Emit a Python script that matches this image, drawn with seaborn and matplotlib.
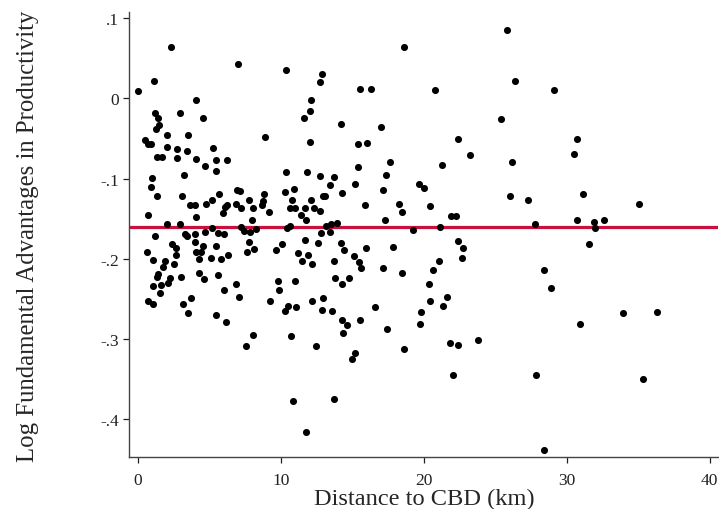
import matplotlib
matplotlib.use("Agg")
import matplotlib.pyplot as plt
import seaborn as sns
import pandas as pd

# Distance to the central business district (km) for each site
distance_km = [
    2.32, 1.09, 0.00, 4.03, 1.16, 2.93, 1.37, 4.54, 1.46, 1.27,
    2.02, 3.49, 0.46, 0.69, 0.92, 2.00, 2.70, 3.44, 5.22, 1.34,
    1.67, 2.70, 4.05, 4.66, 5.45, 6.20, 5.45, 0.97, 0.88, 3.19,
    1.34, 3.09, 5.68, 5.17, 4.75, 3.63, 4.00, 6.10, 0.71, 5.94,
    4.07, 2.02, 2.91, 5.19, 1.18, 3.30, 3.42, 4.00, 4.68, 5.59,
    6.03, 2.35, 2.67, 3.96, 4.54, 5.45, 0.62, 4.05, 4.38, 2.63,
    6.32, 1.06, 4.24, 5.10, 5.80, 1.86, 2.51, 1.72, 1.41, 1.32,
    2.21, 3.00, 4.28, 4.63, 5.59, 2.11, 1.58, 1.06, 1.53, 6.03,
    0.69, 1.06, 3.12, 3.72, 3.47, 5.43, 6.15,
    7.01, 10.36, 12.84, 12.72, 12.09, 12.00, 11.58, 8.87, 12.04,
    10.36, 11.81, 12.74, 6.92, 7.15, 8.83, 10.27, 10.90, 12.95, 6.20,
    6.83, 7.24, 7.76, 8.08, 8.76, 8.71, 9.17, 10.78, 10.97, 10.62,
    12.09, 11.67, 12.32, 12.70, 11.39, 11.74, 8.01, 7.24, 7.41, 7.83,
    8.27, 10.41, 10.64, 7.76, 8.13, 7.62, 9.69, 10.11, 11.67, 12.60,
    11.16, 11.86, 11.48, 12.16, 6.85, 7.06, 9.83, 9.85, 10.99, 9.24,
    10.50, 11.02, 10.27, 12.14, 12.95, 12.88,
    8.08, 7.57, 10.71, 12.42, 10.83, 11.74,
    18.62, 15.50, 16.29, 14.21, 17.01, 15.38, 15.99, 15.36, 17.66, 17.34,
    13.68, 13.40, 15.19, 13.07, 14.26, 17.13, 19.64, 20.04, 15.85, 18.27,
    18.48, 20.41, 17.29, 13.14, 13.47, 13.93, 12.81, 13.44, 19.22,
    14.17, 14.38, 15.94, 17.85, 13.72, 15.10, 15.43, 15.57, 17.13, 18.45,
    13.77, 14.75, 14.28, 20.39, 20.41, 13.56, 16.57, 19.83, 14.26, 14.59,
    15.52, 14.33, 17.45, 19.73, 18.62, 15.17, 14.94, 13.68,
    25.80, 20.78, 26.36, 29.08, 25.38, 22.37, 30.71, 23.23, 30.50, 21.27,
    26.20, 26.03, 27.27, 31.16, 35.08, 21.88, 22.28, 21.13, 27.80, 30.69,
    31.93, 32.00, 32.60, 22.39, 22.77, 22.65, 31.55, 21.04, 20.67, 28.41,
    28.92, 21.62, 21.37, 33.96, 36.29, 30.92, 21.81, 22.37, 23.77, 22.04,
    27.85, 35.33, 28.38,
]

# Estimated log fundamental advantage in productivity for each site
log_advantage = [
    0.064, 0.022, 0.009, -0.002, -0.018, -0.018, -0.024, -0.024, -0.033, -0.038,
    -0.046, -0.045, -0.052, -0.057, -0.057, -0.060, -0.063, -0.066, -0.062, -0.073,
    -0.073, -0.074, -0.075, -0.084, -0.077, -0.077, -0.091, -0.099, -0.110, -0.096,
    -0.121, -0.121, -0.119, -0.126, -0.131, -0.133, -0.133, -0.135, -0.145, -0.143,
    -0.148, -0.157, -0.157, -0.161, -0.172, -0.169, -0.171, -0.169, -0.167, -0.168,
    -0.169, -0.181, -0.186, -0.179, -0.184, -0.184, -0.191, -0.191, -0.192, -0.195,
    -0.195, -0.201, -0.200, -0.199, -0.200, -0.203, -0.206, -0.210, -0.219, -0.223,
    -0.224, -0.223, -0.217, -0.225, -0.220, -0.230, -0.233, -0.234, -0.242, -0.239,
    -0.252, -0.256, -0.256, -0.249, -0.267, -0.270, -0.279,
    0.043, 0.036, 0.031, 0.021, -0.002, -0.015, -0.024, -0.048, -0.054,
    -0.092, -0.092, -0.097, -0.114, -0.115, -0.119, -0.117, -0.113, -0.121, -0.133,
    -0.131, -0.137, -0.127, -0.137, -0.128, -0.133, -0.141, -0.127, -0.136, -0.137,
    -0.127, -0.137, -0.137, -0.140, -0.145, -0.151, -0.151, -0.160, -0.165, -0.167,
    -0.163, -0.161, -0.159, -0.179, -0.188, -0.192, -0.189, -0.182, -0.177, -0.180,
    -0.193, -0.195, -0.202, -0.206, -0.231, -0.248, -0.227, -0.239, -0.227, -0.253,
    -0.259, -0.260, -0.265, -0.252, -0.249, -0.264,
    -0.295, -0.308, -0.296, -0.309, -0.377, -0.416,
    0.064, 0.012, 0.012, -0.032, -0.036, -0.057, -0.055, -0.085, -0.079, -0.095,
    -0.098, -0.108, -0.106, -0.121, -0.118, -0.114, -0.106, -0.111, -0.133, -0.131,
    -0.141, -0.134, -0.152, -0.159, -0.157, -0.155, -0.168, -0.167, -0.164,
    -0.180, -0.189, -0.187, -0.185, -0.203, -0.196, -0.204, -0.211, -0.211, -0.217,
    -0.224, -0.224, -0.231, -0.231, -0.252, -0.265, -0.260, -0.266, -0.276, -0.282,
    -0.276, -0.293, -0.288, -0.281, -0.312, -0.317, -0.325, -0.375,
    0.086, 0.011, 0.022, 0.010, -0.025, -0.050, -0.050, -0.070, -0.069, -0.083,
    -0.079, -0.122, -0.127, -0.119, -0.131, -0.147, -0.146, -0.160, -0.157, -0.151,
    -0.154, -0.161, -0.152, -0.178, -0.186, -0.199, -0.182, -0.202, -0.214, -0.214,
    -0.236, -0.247, -0.259, -0.268, -0.266, -0.281, -0.305, -0.307, -0.301, -0.345,
    -0.345, -0.350, -0.438,
]

# Mean of the log fundamental advantage, shown as a reference line
mean_advantage = -0.16

x_ticks = [0, 10, 20, 30, 40]
x_tick_labels = ["0", "10", "20", "30", "40"]
y_ticks = [0.1, 0.0, -0.1, -0.2, -0.3, -0.4]
y_tick_labels = [".1", "0", "-.1", "-.2", "-.3", "-.4"]

x_title = "Distance to CBD (km)"
y_title = "Log Fundamental Advantages in Productivity"

df = pd.DataFrame({"distance": distance_km, "advantage": log_advantage})

sns.set_style("white")
plt.rcParams["font.family"] = ["Liberation Serif", "DejaVu Serif"]

fig = plt.figure(figsize=(7.19, 5.10), dpi=100)
ax = fig.add_axes([0.180, 0.101, 0.819, 0.873])

sns.scatterplot(data=df, x="distance", y="advantage", ax=ax,
                color="black", s=26, linewidth=0, zorder=3)
ax.axhline(mean_advantage, color="#c8103c", linewidth=2.3, zorder=2)

ax.set_xlim(-0.6, 40.6)
ax.set_ylim(-0.4476, 0.1075)

ax.set_xticks(x_ticks)
ax.set_xticklabels(x_tick_labels)
ax.set_yticks(y_ticks)
ax.set_yticklabels(y_tick_labels)

ax.tick_params(axis="both", which="major", labelsize=12.5, colors="#222222",
               length=4.5, width=0.9, direction="out", left=True, bottom=True)
ax.tick_params(axis="y", pad=3)
ax.tick_params(axis="x", pad=6)

for side in ("top", "right"):
    ax.spines[side].set_visible(False)
for side in ("left", "bottom"):
    ax.spines[side].set_color("#444444")
    ax.spines[side].set_linewidth(1.0)

ax.set_xlabel(x_title, fontsize=17.6, labelpad=0)
ax.set_ylabel(y_title, fontsize=17.8, labelpad=44)

fig.savefig("out.png", dpi=100, facecolor="white")
